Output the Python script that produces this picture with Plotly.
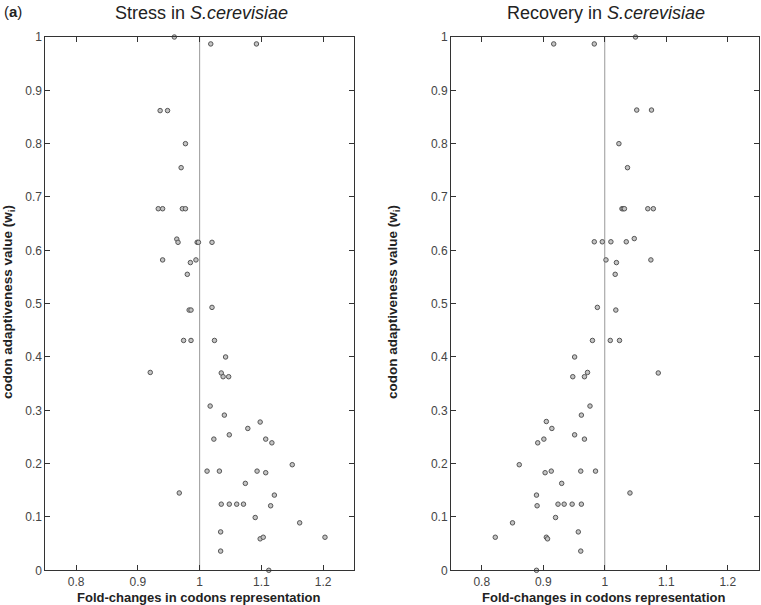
import plotly.graph_objects as go

# ---------------- data ----------------
stress_fold = [0.959, 1.018, 1.092, 0.936, 0.948, 0.977, 0.970, 0.933, 0.940, 0.972,
               0.977, 0.963, 0.965, 0.996, 0.998, 1.020, 0.940, 0.985, 0.994, 0.980,
               0.983, 0.986, 1.020, 0.974, 0.986, 1.024, 0.920, 1.042, 1.035, 1.038,
               1.047, 1.017, 1.040, 1.098, 1.078, 1.048, 1.023, 1.107, 1.117, 1.150,
               1.012, 1.032, 1.093, 1.107, 1.074, 0.967, 1.121, 1.035, 1.048, 1.060,
               1.071, 1.115, 1.090, 1.162, 1.034, 1.098, 1.103, 1.203, 1.034, 1.112]
stress_w = [1.000, 0.987, 0.987, 0.862, 0.862, 0.800, 0.755, 0.678, 0.678, 0.678,
            0.678, 0.621, 0.615, 0.615, 0.615, 0.615, 0.582, 0.577, 0.582, 0.555,
            0.488, 0.488, 0.493, 0.431, 0.431, 0.431, 0.371, 0.400, 0.370, 0.363,
            0.363, 0.308, 0.291, 0.278, 0.266, 0.254, 0.246, 0.246, 0.239, 0.198,
            0.186, 0.186, 0.186, 0.183, 0.163, 0.145, 0.141, 0.124, 0.124, 0.124,
            0.124, 0.121, 0.099, 0.089, 0.072, 0.059, 0.062, 0.062, 0.036, 0.000]

recovery_fold = [1.050, 0.917, 0.983, 1.052, 1.076, 1.023, 1.037, 1.028, 1.030, 1.032,
                 1.070, 1.079, 1.048, 0.983, 0.996, 1.010, 1.035, 1.002, 1.075, 1.019,
                 1.017, 0.988, 1.018, 0.980, 1.009, 1.024, 0.951, 0.948, 0.967, 0.972,
                 1.087, 0.976, 0.962, 0.905, 0.914, 0.951, 0.901, 0.967, 0.891, 0.861,
                 0.903, 0.913, 0.961, 0.985, 0.930, 0.889, 1.041, 0.890, 0.924, 0.934,
                 0.947, 0.962, 0.920, 0.850, 0.957, 0.822, 0.905, 0.907, 0.961, 0.889]
recovery_w = [1.000, 0.987, 0.987, 0.863, 0.863, 0.800, 0.755, 0.678, 0.678, 0.678,
              0.678, 0.678, 0.622, 0.616, 0.616, 0.616, 0.616, 0.582, 0.582, 0.577,
              0.555, 0.493, 0.488, 0.431, 0.431, 0.431, 0.400, 0.363, 0.363, 0.371,
              0.370, 0.308, 0.291, 0.279, 0.266, 0.254, 0.246, 0.246, 0.239, 0.198,
              0.183, 0.186, 0.186, 0.186, 0.163, 0.141, 0.145, 0.121, 0.124, 0.124,
              0.124, 0.124, 0.099, 0.089, 0.072, 0.062, 0.062, 0.059, 0.036, 0.000]

x_ticks = [0.8, 0.9, 1.0, 1.1, 1.2]
x_tick_labels = ["0.8", "0.9", "1", "1.1", "1.2"]
y_ticks = [0, 0.1, 0.2, 0.3, 0.4, 0.5, 0.6, 0.7, 0.8, 0.9, 1.0]
y_tick_labels = ["0", "0.1", "0.2", "0.3", "0.4", "0.5", "0.6", "0.7", "0.8", "0.9", "1"]
reference_fold = 1.0

titles = ["Stress in <i>S.cerevisiae</i>", "Recovery in <i>S.cerevisiae</i>"]
x_title = "<b>Fold-changes in codons representation</b>"
y_title = "<b>codon adaptiveness value (w<sub>i</sub>)</b>"

# ---------------- figure ----------------
W, H = 761, 605
FONT = "Liberation Sans, Arial, sans-serif"

fig = go.Figure()
marker = dict(size=4.5, color="#c4c4c4", line=dict(width=1, color="#555555"))
fig.add_trace(go.Scatter(x=stress_fold, y=stress_w, mode="markers", marker=marker,
                         xaxis="x", yaxis="y", cliponaxis=False, showlegend=False,
                         hoverinfo="skip"))
fig.add_trace(go.Scatter(x=recovery_fold, y=recovery_w, mode="markers", marker=marker,
                         xaxis="x2", yaxis="y2", cliponaxis=False, showlegend=False,
                         hoverinfo="skip"))

y_dom = [1 - 570.3 / H, 1 - 37 / H]
x_dom1 = [45.3 / W, 354 / W]
x_dom2 = [451 / W, 758.5 / W]

common_x = dict(range=[0.75, 1.25], tickvals=x_ticks, ticktext=x_tick_labels,
                showline=True, linecolor="#333333", linewidth=1, mirror="ticks",
                ticks="inside", ticklen=5, tickcolor="#333333", showgrid=False,
                zeroline=False, automargin=False,
                tickfont=dict(family=FONT, size=12, color="#444444"))
common_y = dict(range=[0, 1], tickvals=y_ticks, ticktext=y_tick_labels,
                showline=True, linecolor="#333333", linewidth=1, mirror="ticks",
                ticks="inside", ticklen=5, tickcolor="#333333", showgrid=False,
                zeroline=False, automargin=False,
                tickfont=dict(family=FONT, size=12, color="#444444"))

fig.update_layout(
    template="none",
    width=W, height=H, margin=dict(l=0, r=0, t=0, b=0, pad=0),
    paper_bgcolor="white", plot_bgcolor="white",
    font=dict(family=FONT),
    xaxis=dict(domain=x_dom1, anchor="y", **common_x),
    yaxis=dict(domain=y_dom, anchor="x", **common_y),
    xaxis2=dict(domain=x_dom2, anchor="y2", **common_x),
    yaxis2=dict(domain=y_dom, anchor="x2", **common_y),
)

for xr, yr in [("x", "y"), ("x2", "y2")]:
    fig.add_shape(type="line", xref=xr, yref=yr, x0=reference_fold, x1=reference_fold,
                  y0=0, y1=1, line=dict(color="#999999", width=1), layer="below")

annotations = [
    dict(text="(<b>a</b>)", x=12.5 / W, y=1 - 12 / H, font=dict(size=15, color="#222")),
    dict(text=titles[0], x=201 / W, y=1 - 13 / H, font=dict(size=18, color="#222")),
    dict(text=titles[1], x=606 / W, y=1 - 13 / H, font=dict(size=18, color="#222")),
    dict(text=x_title, x=198 / W, y=1 - 597 / H, font=dict(size=13, color="#222")),
    dict(text=x_title, x=603 / W, y=1 - 597 / H, font=dict(size=13, color="#222")),
    dict(text=y_title, x=8 / W, y=1 - 302 / H, textangle=-90, font=dict(size=13.5, color="#222")),
    dict(text=y_title, x=393 / W, y=1 - 302 / H, textangle=-90, font=dict(size=13.5, color="#222")),
]
for a in annotations:
    a["font"]["family"] = FONT
    fig.add_annotation(xref="paper", yref="paper", showarrow=False,
                       xanchor="center", yanchor="middle", **a)

fig.write_html("out.html", config={"displayModeBar": False},
               post_script="document.body.style.margin='0';document.body.style.overflow='hidden';")
